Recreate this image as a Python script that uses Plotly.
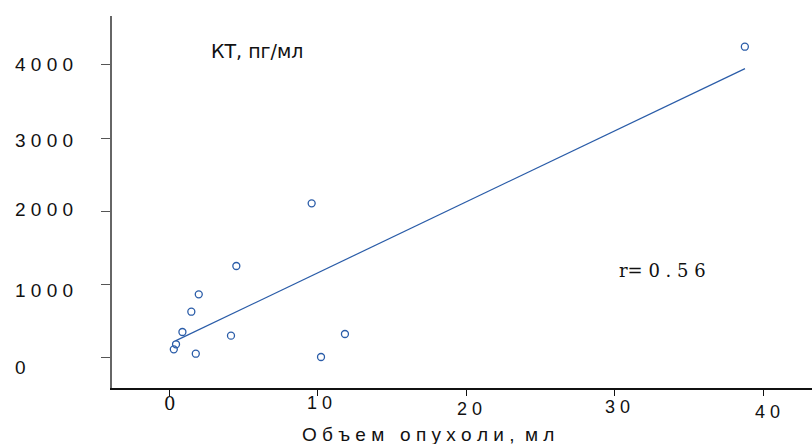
import plotly.graph_objects as go

# ---- data ----
volume_ml = [0.32, 0.47, 0.9, 1.5, 2.0, 1.8, 4.17, 4.53, 9.6, 10.23, 11.84, 38.76]
kt_pg_ml = [109, 178, 346, 624, 862, 49, 296, 1249, 2107, 4, 319, 4250]

trend_x = [0.43, 38.77]
trend_y = [225, 3950]

x_ticks = [0, 10, 20, 30, 40]
x_tick_text = ["0", "1 0", "2 0", "3 0", "4 0"]
y_ticks = [0, 1000, 2000, 3000, 4000]
y_tick_text = ["0", "1 0 0 0", "2 0 0 0", "3 0 0 0", "4 0 0 0"]

x_title = "О б ъ е м\u00a0\u00a0\u00a0о п у х о л и ,\u00a0\u00a0м л"
y_title = "КТ, пг/мл"
r_text = "r= 0 . 5 6"

# ---- styling / layout constants ----
BLUE = "#2a5ca8"
SANS = "Liberation Sans, Arial, sans-serif"
SERIF = "DejaVu Serif, serif"

fig = go.Figure()
fig.add_trace(go.Scatter(
    x=trend_x, y=trend_y, mode="lines",
    line=dict(color=BLUE, width=1.2), hoverinfo="skip", showlegend=False))
fig.add_trace(go.Scatter(
    x=volume_ml, y=kt_pg_ml, mode="markers",
    marker=dict(symbol="circle-open", size=7, color=BLUE, line=dict(width=1.3)),
    showlegend=False))

annotations = []
# y tick labels (left aligned, slight offsets as in reference)
y_label_shift = [-10, -6, 2, -2, 0]
for v, t, s in zip(y_ticks, y_tick_text, y_label_shift):
    annotations.append(dict(
        x=0, xref="paper", xanchor="left", xshift=-99,
        y=v, yref="y", yanchor="middle", yshift=s,
        text=t, showarrow=False, font=dict(family=SANS, size=19, color="#111")))
# x tick labels
x_label_dy = [-15, -15, -21, -19, -24]
x_label_dx = [0, 2, 3, 3, 4]
for v, t, dy, dx in zip(x_ticks, x_tick_text, x_label_dy, x_label_dx):
    annotations.append(dict(
        x=v, xref="x", xanchor="center", xshift=dx,
        y=0, yref="paper", yanchor="middle", yshift=dy,
        text=t, showarrow=False,
        font=dict(family=SERIF if t == "0" else SANS,
                  size=18 if t == "0" else 18, color="#111")))
# axis title
annotations.append(dict(
    x=(428 - 112) / 700, xref="paper", xanchor="center",
    y=0, yref="paper", yanchor="middle", yshift=-46,
    text=x_title, showarrow=False, font=dict(family=SANS, size=19, color="#111")))
annotations.append(dict(
    x=(257 - 112) / 700, xref="paper", xanchor="center",
    y=(388 - 51) / 372, yref="paper", yanchor="middle",
    text=y_title, showarrow=False, font=dict(family="DejaVu Sans, sans-serif", size=19, color="#111")))
annotations.append(dict(
    x=(662 - 112) / 700, xref="paper", xanchor="center",
    y=(388 - 270) / 372, yref="paper", yanchor="middle",
    text=r_text, showarrow=False, font=dict(family=SERIF, size=18, color="#111")))

fig.update_layout(
    width=812, height=444,
    margin=dict(l=112, r=0, t=16, b=56),
    paper_bgcolor="white", plot_bgcolor="white",
    annotations=annotations,
    xaxis=dict(range=[-3.84, 43.28], showgrid=False, zeroline=False,
               showline=True, linecolor="#111", linewidth=1.5,
               ticks="outside", ticklen=6, tickcolor="#111", tickwidth=1.2,
               tickvals=x_ticks, showticklabels=False),
    yaxis=dict(range=[-420, 4670], showgrid=False, zeroline=False,
               showline=True, linecolor="#666", linewidth=1.5,
               ticks="outside", ticklen=9, tickcolor="#555", tickwidth=1.2,
               tickvals=y_ticks, showticklabels=False),
)

fig.write_html("out.html")
